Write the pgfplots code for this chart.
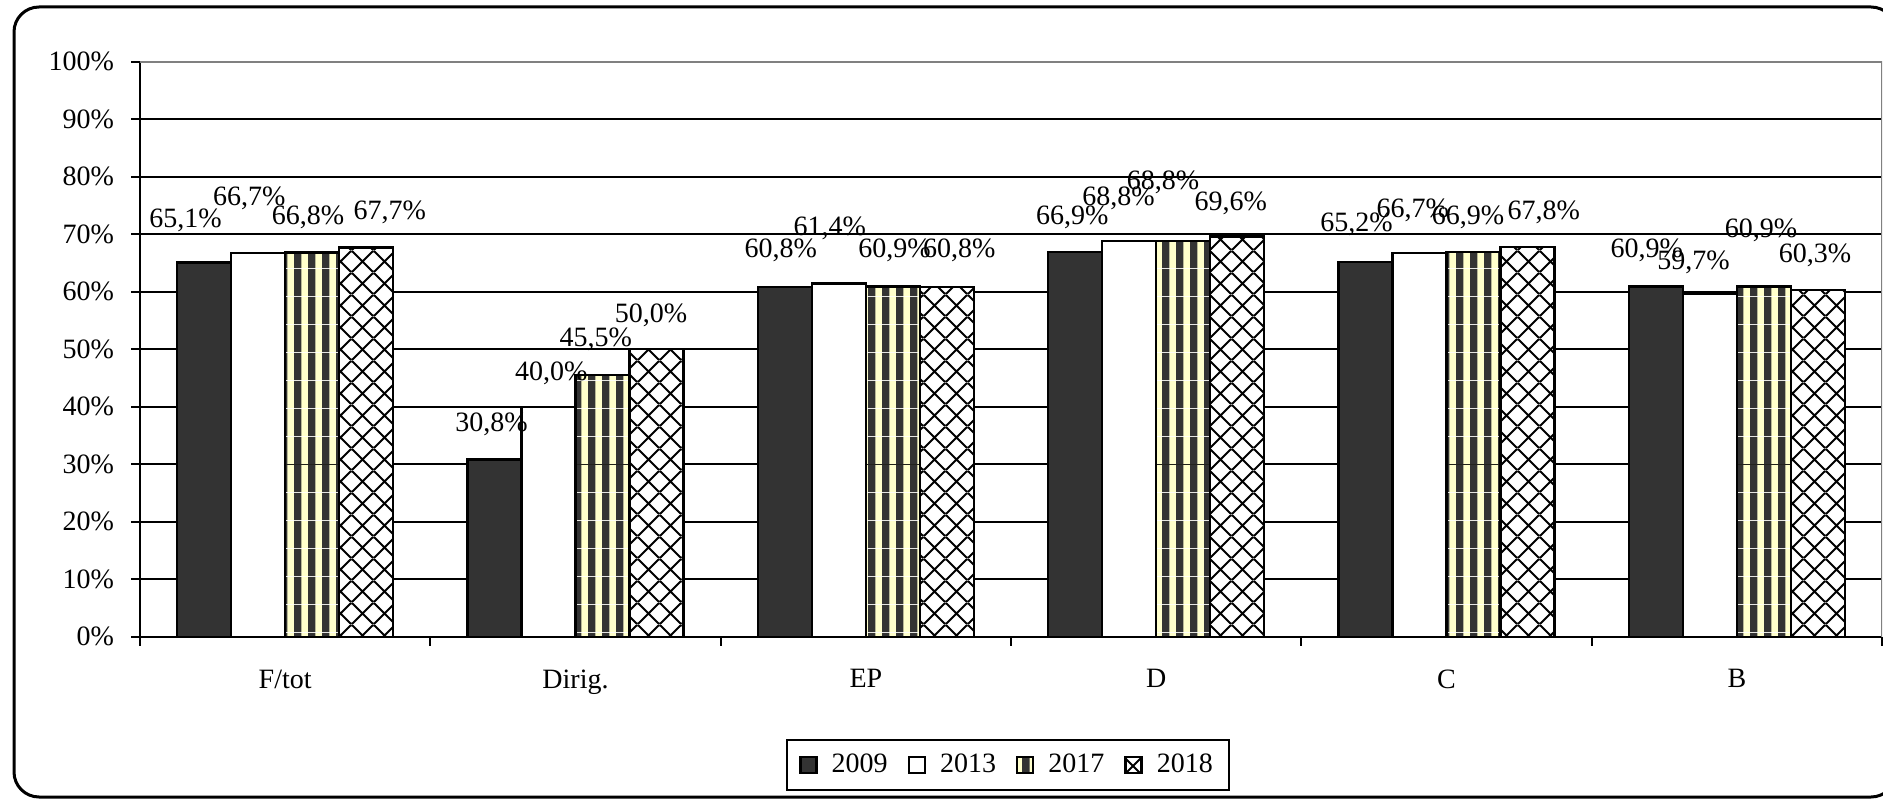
\documentclass[border=0pt]{standalone}
\usepackage{pgfplots}
\pgfplotsset{compat=1.18}
\usepackage{pgfplotstable}
\usepackage{fontspec}
\setmainfont{Liberation Serif}
\usetikzlibrary{patterns.meta}
\definecolor{dk}{HTML}{333333}
\definecolor{ylw}{HTML}{FFFFCC}
\definecolor{frm}{HTML}{808080}
\newcommand\ff{\fontsize{14}{16.8}\selectfont}

\pgfdeclarepattern{
  name=vstripes, type=colored,
  bottom left={\pgfpoint{0pt}{0pt}},
  top right={\pgfpoint{7pt}{14pt}},
  tile size={\pgfpoint{7pt}{14pt}},
  code={\pgfsetfillcolor{ylw}\pgfpathrectangle{\pgfpoint{0pt}{0pt}}{\pgfpoint{7pt}{14pt}}\pgfusepath{fill}
        \pgfsetfillcolor{dk}\pgfpathrectangle{\pgfpoint{0pt}{0pt}}{\pgfpoint{4pt}{14pt}}\pgfusepath{fill}}
}
\pgfdeclarepattern{
  name=diamonds, type=colored,
  bottom left={\pgfpoint{0pt}{0pt}},
  top right={\pgfpoint{11pt}{11pt}},
  tile size={\pgfpoint{11pt}{11pt}},
  code={\pgfsetfillcolor{white}\pgfpathrectangle{\pgfpoint{0pt}{0pt}}{\pgfpoint{11pt}{11pt}}\pgfusepath{fill}
    \pgfsetstrokecolor{black}\pgfsetlinewidth{1pt}
    \pgfpathmoveto{\pgfpoint{0pt}{0pt}}\pgfpathlineto{\pgfpoint{11pt}{11pt}}
    \pgfpathmoveto{\pgfpoint{0pt}{11pt}}\pgfpathlineto{\pgfpoint{11pt}{0pt}}
    \pgfusepath{stroke}}
}

\pgfplotsset{
  mylegend/.style={legend image code/.code={\draw[##1] (0pt,-4pt) rectangle (8pt,4pt);}},
}

\pgfplotstableread{
g a b c d
0 65.1 66.7 66.8 67.7
1 30.8 40.0 45.5 50.0
2 60.8 61.4 60.9 60.8
3 66.9 68.8 68.8 69.6
4 65.2 66.7 66.9 67.8
5 60.9 59.7 60.9 60.3
}\bars

\pgfplotstableread{
lx ly v
-0.343 72.4 65.1
-0.124 76.2 66.7
0.079 73.0 66.8
0.360 73.8 67.7
0.711 37.0 30.8
0.917 45.8 40.0
1.070 51.7 45.5
1.260 55.9 50.0
1.707 67.2 60.8
1.876 71.1 61.4
2.099 67.2 60.9
2.322 67.2 60.8
2.711 73.0 66.9
2.870 76.2 68.8
3.024 79.1 68.8
3.257 75.4 69.6
3.690 71.8 65.2
3.884 74.1 66.7
4.074 73.0 66.9
4.335 73.8 67.8
4.690 67.2 60.9
4.851 65.1 59.7
5.083 70.7 60.9
5.269 66.3 60.3
}\labels

\begin{document}
\begin{tikzpicture}
\draw[line width=1.5pt, rounded corners=12.5pt] (7pt,1pt) rectangle (948pt,396pt);
\begin{axis}[
  at={(70pt,81.15pt)}, anchor=south west,
  scale only axis, width=871pt, height=287.5pt,
  xmin=-0.5, xmax=5.5, ymin=0, ymax=100,
  axis x line*=bottom, axis y line*=left,
  axis line style={black, line width=1pt},
  /pgf/number format/assume math mode=true,
  ytick={0,10,...,100},
  yticklabel={\pgfmathprintnumber{\tick}\%},
  yticklabel style={xshift=-5pt},
  ymajorgrids, grid style={black, line width=1pt},
  xtick={0,...,5},
  xticklabels={F/tot,Dirig.,EP,D,C,B},
  xticklabel style={yshift=-8.4pt},
  minor xtick={-0.5,0.5,...,5.5},
  major x tick style={draw=none},
  tick style={black, line width=1pt},
  tick align=outside,
  major tick length=4.5pt, minor tick length=4.5pt,
  tick label style={font=\ff},
  legend style={at={(0.4983,-0.2231)}, anchor=center, draw=black, line width=1pt,
    font=\ff, inner xsep=6pt, inner ysep=5pt,
    /tikz/every odd column/.append style={column sep=5pt},
    /tikz/every even column/.append style={column sep=8pt}},
  legend columns=4,
]
\addplot[ybar, bar width=0.186, bar shift=-0.279, fill=dk, draw=black, line width=1.2pt, mylegend]
  table[x=g, y=a] \bars;
\addplot[ybar, bar width=0.186, bar shift=-0.093, fill=white, draw=black, line width=1.2pt, mylegend]
  table[x=g, y=b] \bars;
\addplot[ybar, bar width=0.186, bar shift=0.093, draw=black, line width=1.2pt,
  pattern={vstripes}, mylegend]
  table[x=g, y=c] \bars;
\addplot[ybar, bar width=0.186, bar shift=0.279, draw=black, line width=1.2pt,
  pattern={diamonds}, mylegend]
  table[x=g, y=d] \bars;
\legend{2009,2013,2017,2018}
\addplot[forget plot, only marks, mark=none, point meta=explicit,
  nodes near coords={\pgfmathprintnumber[fixed,fixed zerofill,precision=1,use comma]{\pgfplotspointmeta}\%},
  nodes near coords style={anchor=center, font=\ff, inner sep=0pt}]
  table[x=lx, y=ly, meta=v] \labels;
\draw[frm, line width=1pt] (rel axis cs:0,1) -- (rel axis cs:1,1) -- (rel axis cs:1,0);
\end{axis}
\pgfresetboundingbox
\useasboundingbox (0,0) rectangle (941.5pt,399.5pt);
\end{tikzpicture}
\end{document}
